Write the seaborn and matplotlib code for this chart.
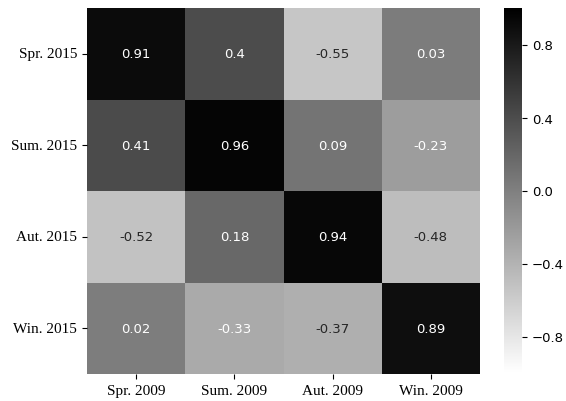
import numpy as np
import pandas as pd
import matplotlib
matplotlib.use("Agg")
import matplotlib.pyplot as plt
import seaborn as sns

# Seasonal correlation between 2015 and 2009
rows = ["Spr. 2015", "Sum. 2015", "Aut. 2015", "Win. 2015"]
cols = ["Spr. 2009", "Sum. 2009", "Aut. 2009", "Win. 2009"]
spr_2015 = [0.91, 0.40, -0.55, 0.03]
sum_2015 = [0.41, 0.96, 0.09, -0.23]
aut_2015 = [-0.52, 0.18, 0.94, -0.48]
win_2015 = [0.02, -0.33, -0.37, 0.89]
cbar_ticks = [0.8, 0.4, 0.0, -0.4, -0.8]

df = pd.DataFrame([spr_2015, sum_2015, aut_2015, win_2015], index=rows, columns=cols)

fig = plt.figure(figsize=(5.66, 4.02), dpi=100)
ax = fig.add_axes([87 / 566, 27 / 402, 393 / 566, 366 / 402])
cax = fig.add_axes([504 / 566, 28 / 402, 18 / 566, 365 / 402])

sns.heatmap(df, ax=ax, cbar_ax=cax, cmap="gray_r", vmin=-1, vmax=1,
            annot=True, fmt="g", annot_kws={"size": 9.5},
            cbar_kws={"ticks": cbar_ticks})

ax.set_yticklabels(ax.get_yticklabels(), rotation=0)
ax.set_xticklabels(ax.get_xticklabels(), rotation=0)
for lab in ax.get_xticklabels() + ax.get_yticklabels():
    lab.set_family("Liberation Serif")
    lab.set_fontsize(11)
ax.set_xlabel("")
ax.set_ylabel("")
cax.tick_params(labelsize=9.5)

fig.savefig("out.png", dpi=100)
